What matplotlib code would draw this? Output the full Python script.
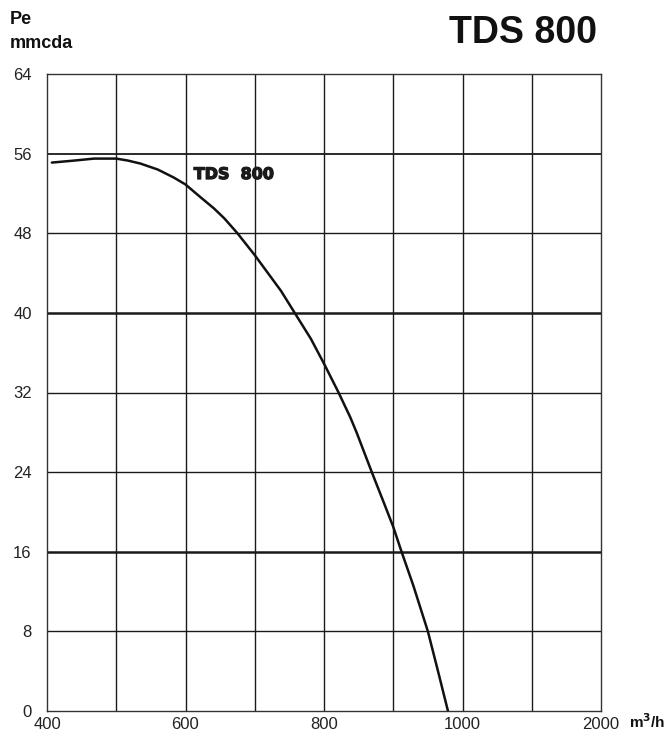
import numpy as np
import matplotlib
matplotlib.use("Agg")
import matplotlib.pyplot as plt
import matplotlib.patheffects as pe
from matplotlib.scale import FuncScale

plt.rcParams['font.family'] = ['Liberation Sans', 'DejaVu Sans']

# Data (airflow m3/h vs static pressure mmcda)
flow = [407, 439, 468, 500, 517, 535, 560, 583, 600, 622, 641, 656, 675, 700,
        719, 738, 755, 781, 800, 821, 838, 847, 869, 886, 900, 912, 929, 950,
        965, 979]
pressure = [55.1, 55.3, 55.5, 55.5, 55.3, 55.0, 54.4, 53.6, 52.9, 51.6, 50.5,
            49.5, 48.0, 45.8, 44.0, 42.2, 40.3, 37.4, 34.9, 32.0, 29.5, 28.0,
            24.0, 21.0, 18.5, 16.0, 12.6, 8.0, 3.9, 0.0]

x_ticks = [400, 600, 800, 1000, 2000]
x_grid = [500, 700, 900, 1500]
y_ticks = [0, 8, 16, 24, 32, 40, 48, 56, 64]
bold_y = [16, 40]
label = "TDS  800"


def fwd(x):
    x = np.asarray(x, dtype=float)
    return np.where(x <= 1000, (x - 400) / 100.0, 6 + (x - 1000) / 500.0)


def inv(u):
    u = np.asarray(u, dtype=float)
    return np.where(u <= 6, 400 + u * 100.0, 1000 + (u - 6) * 500.0)


fig = plt.figure(figsize=(6.71, 7.34), dpi=100)
ax = fig.add_axes([47 / 671, 1 - 711 / 734, (601 - 47) / 671, (711 - 74) / 734])
ax.set_xscale(FuncScale(ax, (fwd, inv)))
ax.set_xlim(400, 2000)
ax.set_ylim(0, 64)

for v in x_ticks[1:-1] + x_grid:
    ax.axvline(v, color='#1a1a1a', lw=1.0, zorder=1)
for v in y_ticks[1:-1]:
    if v in bold_y:
        lw = 1.8
    elif v == 56:
        lw = 1.3
    else:
        lw = 1.0
    ax.axhline(v, color='#1a1a1a', lw=lw, zorder=1)

ax.plot(flow, pressure, color='#111111', lw=1.8, zorder=3,
        solid_joinstyle='round', solid_capstyle='round')

ax.text(612, 53.9, label, fontsize=11.5, fontweight='bold', family='DejaVu Sans',
        color='#1a1a1a', va='center', ha='left', zorder=4,
        path_effects=[pe.withStroke(linewidth=0.9, foreground='#1a1a1a')])

ax.set_xticks(x_ticks)
ax.set_xticklabels([str(v) for v in x_ticks])
ax.set_yticks(y_ticks)
ax.set_yticklabels([str(v) for v in y_ticks])
ax.tick_params(length=0, labelsize=12, pad=11, colors='#222222')
ax.tick_params(axis='x', pad=4)
for s in ax.spines.values():
    s.set_color('#333333')
    s.set_linewidth(1.0)

fig.text(10 / 671, 1 - 20 / 734, "Pe", fontsize=13, fontweight='bold', va='center', ha='left',
         color='#111111')
fig.text(10 / 671, 1 - 43 / 734, "mmcda", fontsize=13, fontweight='bold', va='center', ha='left',
         color='#111111')
fig.text(597 / 671, 1 - 33 / 734, "TDS 800", fontsize=27, fontweight='bold', va='center', ha='right',
         color='#111111')
fig.text(629 / 671, 1 - 722 / 734, "m$^{\\mathbf{3}}$/h", fontsize=11, fontweight='bold', va='center',
         ha='left', color='#111111')

fig.savefig("out.png", dpi=100)
